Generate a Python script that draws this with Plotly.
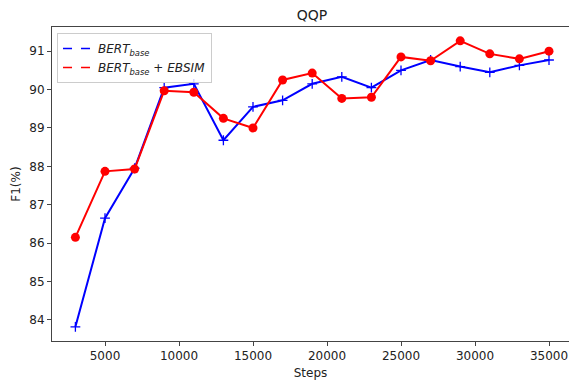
import plotly.graph_objects as go

steps = [3000, 5000, 7000, 9000, 11000, 13000, 15000, 17000, 19000,
         21000, 23000, 25000, 27000, 29000, 31000, 33000, 35000]
bert_base = [83.82, 86.65, 87.95, 90.05, 90.15, 88.68, 89.55, 89.72, 90.15,
             90.33, 90.05, 90.50, 90.77, 90.60, 90.45, 90.63, 90.77]
bert_ebsim = [86.15, 87.87, 87.93, 89.97, 89.93, 89.25, 89.00, 90.25, 90.43,
              89.77, 89.80, 90.85, 90.75, 91.27, 90.93, 90.80, 91.00]
x_ticks = [5000, 10000, 15000, 20000, 25000, 30000, 35000]
x_tick_labels = ["5000", "10000", "15000", "20000", "25000", "30000", "35000"]
y_ticks = [84, 85, 86, 87, 88, 89, 90, 91]
y_tick_labels = ["84", "85", "86", "87", "88", "89", "90", "91"]
names = ["<i>BERT<sub>base</sub></i>", "<i>BERT<sub>base</sub></i> + <i>EBSIM</i>"]

FONT = "DejaVu Sans"
fig = go.Figure()
fig.add_trace(go.Scatter(x=steps, y=bert_base, mode="lines+markers",
                         line=dict(color="#0000ff", width=2),
                         marker=dict(symbol="cross-thin", size=7,
                                     line=dict(color="#0000ff", width=1.3)),
                         showlegend=False))
fig.add_trace(go.Scatter(x=steps, y=bert_ebsim, mode="lines+markers",
                         line=dict(color="#ff0000", width=2),
                         marker=dict(symbol="circle", size=9, color="#ff0000"),
                         showlegend=False))
# legend handles (dashed lines, as in the reference)
fig.add_trace(go.Scatter(x=[None], y=[None], mode="lines", name=names[0],
                         line=dict(color="#0000ff", width=1.5, dash="dash")))
fig.add_trace(go.Scatter(x=[None], y=[None], mode="lines", name=names[1],
                         line=dict(color="#ff0000", width=1.5, dash="dash")))

axis_common = dict(showgrid=False, zeroline=False, showline=True,
                   linecolor="#444", linewidth=1, ticks="outside",
                   ticklen=4, tickwidth=1, tickcolor="#444",
                   tickfont=dict(family=FONT, size=12, color="#222"))
fig.update_layout(
    width=569, height=381,
    margin=dict(l=52, r=0, t=27, b=40),
    paper_bgcolor="white", plot_bgcolor="white",
    font=dict(family=FONT, size=12, color="#222"),
    title=dict(text="QQP", x=312 / 569, xanchor="center", xref="container",
               y=1 - 15 / 381, yanchor="middle", yref="container",
               font=dict(family=FONT, size=14, color="#222")),
    xaxis=dict(range=[1419, 36351], tickmode="array", tickvals=x_ticks,
               ticktext=x_tick_labels, mirror=True,
               title=dict(text="Steps", standoff=6,
                          font=dict(family=FONT, size=12, color="#222")),
               **axis_common),
    yaxis=dict(range=[83.45, 91.63], tickmode="array", tickvals=y_ticks,
               ticktext=y_tick_labels, mirror=False,
               title=dict(text="F1(%)", standoff=6,
                          font=dict(family=FONT, size=12, color="#222")),
               **axis_common),
    legend=dict(x=0.0097, y=0.981, xanchor="left", yanchor="top",
                bgcolor="rgba(255,255,255,0.8)", bordercolor="#cccccc",
                borderwidth=1, font=dict(family=FONT, size=12, color="#222"),
                itemwidth=30, tracegroupgap=2),
)
fig.write_html("out.html")
